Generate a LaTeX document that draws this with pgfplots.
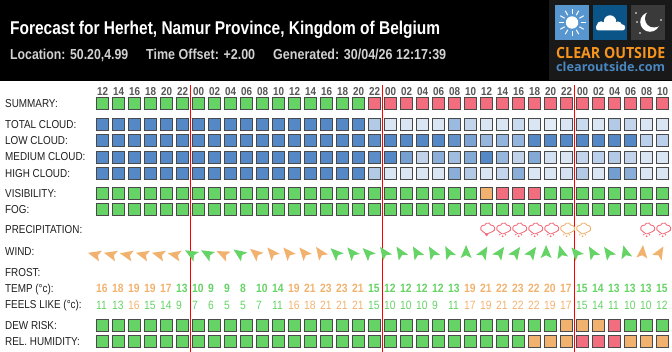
\documentclass[border=0pt]{standalone}
\usepackage{fontspec}
\setmainfont{Liberation Sans}
\newfontfamily\narrow[FakeStretch=0.86]{Liberation Sans}
\newfontfamily\logofont{Open Sans}
\usepackage{pgfplots}
\usepackage{pgfplotstable}
\pgfplotsset{compat=1.18}
\definecolor{cellb}{HTML}{4A4A4A}
\definecolor{okg}{HTML}{66D366}
\definecolor{warn}{HTML}{F2B26F}
\definecolor{bad}{HTML}{F26D7E}
\definecolor{hourc}{HTML}{555555}
\definecolor{lab}{HTML}{1E1E1E}

% summary, vis, fog, dew, hum: 0 good, 50 marginal, 100 poor; cloud in percent
\pgfplotstableread{
i hour summary total low medium high vis fog dew hum
0  12 0   100 100 100 100 0   0 0   0
1  14 0   100 100 100 100 0   0 0   0
2  16 0   100 100 100 100 0   0 0   0
3  18 0   100 100 100 100 0   0 0   0
4  20 0   100 100 100 100 0   0 0   0
5  22 0   100 100 100 100 0   0 0   0
6  00 0   100 100 100 100 0   0 0   0
7  02 0   100 100 100 100 0   0 0   0
8  04 0   100 100 100 100 0   0 0   0
9  06 0   100 100 100 100 0   0 0   0
10 08 0   100 100 100 100 0   0 0   0
11 10 0   100 100 100 100 0   0 0   0
12 12 0   100 100 100 100 0   0 0   0
13 14 0   100 100 100 100 0   0 0   0
14 16 0   100 100 100 100 0   0 0   0
15 18 0   100 100 100 100 0   0 0   0
16 20 0   100 100 100 100 0   0 0   0
17 22 100 40  95  95  40  0   0 0   0
18 00 100 15  100 100 15  0   0 0   0
19 02 100 15  100 78  15  0   0 0   0
20 04 100 15  100 32  15  0   0 0   0
21 06 100 15  100 65  15  0   0 0   0
22 08 100 55  90  52  65  0   0 0   0
23 10 100 30  75  70  40  0   0 0   0
24 12 100 15  58  100 15  50  0 0   0
25 14 100 15  60  58  30  100 0 0   0
26 16 100 25  60  32  65  100 0 0   0
27 18 100 15  100 70  15  100 0 0   50
28 20 100 10  100 20  15  0   0 0   50
29 22 100 15  100 15  20  0   0 50  50
30 00 100 25  100 30  40  0   0 50  100
31 02 100 15  100 35  15  0   0 50  100
32 04 100 40  100 40  80  0   0 100 100
33 06 100 30  100 30  65  0   0 0   50
34 08 100 15  35  15  15  0   0 0   50
35 10 100 15  35  15  15  0   0 0   50
}\fc

\pgfdeclareplotmark{windarrow}{%
  \pgfpathmoveto{\pgfpoint{10.5pt}{0pt}}%
  \pgfpathlineto{\pgfpoint{-2.5pt}{5.5pt}}%
  \pgfpathlineto{\pgfpoint{0.3pt}{0pt}}%
  \pgfpathlineto{\pgfpoint{-2.5pt}{-5.5pt}}%
  \pgfpathclose\pgfusepathqfill}
\newcommand\cloudpath{%
  \pgfpathmoveto{\pgfpoint{-3.8pt}{-3.05pt}}%
  \pgfpatharc{250}{80}{3.3pt}%
  \pgfpatharc{160}{20}{3.4pt}%
  \pgfpatharc{100}{-70}{3.3pt}%
  \pgfpathlineto{\pgfpoint{1pt}{-5.2pt}}%
  \pgfpathlineto{\pgfpoint{-0.8pt}{-5.2pt}}%
  \pgfpathclose\pgfusepathqstroke}
\pgfdeclareplotmark{rainthree}{\cloudpath
  \pgfpathcircle{\pgfpoint{-2.8pt}{-6.2pt}}{0.85pt}%
  \pgfpathcircle{\pgfpoint{2.8pt}{-6.2pt}}{0.85pt}%
  \pgfpathcircle{\pgfpoint{0pt}{-7.8pt}}{0.95pt}\pgfusepathqfill}
\pgfdeclareplotmark{rainone}{\cloudpath
  \pgfpathcircle{\pgfpoint{0pt}{-6.2pt}}{1.6pt}\pgfusepathqfill}

\newcommand\rowlab[2]{\node[anchor=base west,inner sep=0,text=lab,font=\narrow\fontsize{11.5}{13}\selectfont] at (5,#1+4) {#2};}
\pgfplotsset{
  riskcell/.style={scatter,only marks,point meta=\thisrow{#1},mark=square*,mark size=6pt,
    mark options={line width=1pt},colormap name=riskmap,
    scatter/use mapped color={draw=cellb,fill=mapped color}},
  cloudcell/.style={scatter,only marks,point meta=\thisrow{#1},mark=square*,mark size=6pt,
    mark options={line width=1pt},colormap name=cloudmap,
    scatter/use mapped color={draw=cellb,fill=mapped color}},
  numtext/.style={only marks,mark=none,point meta=explicit symbolic,nodes near coords,
    every node near coord/.append style={anchor=west,inner sep=0,xshift=-6.6pt,
    text=#1}},
  windmark/.style={scatter,only marks,mark=windarrow,color=#1,
    scatter/use mapped color={draw=none,fill=#1},
    visualization depends on={\thisrow{wind} \as \rot},
    scatter/@pre marker code/.append style={/tikz/rotate=\rot}},
  rainmark/.style={only marks,mark=#1},
}
\begin{document}
\begin{tikzpicture}[x=1pt,y=-1pt]
\useasboundingbox (0,0) rectangle (672,352);
% header
\fill[black] (0,0) rectangle (672,81);
\fill[black!90!white] (549,0) rectangle (672,80);
\node[anchor=base west,inner sep=0,text=white,font=\bfseries\fontsize{18.5}{21}\selectfont] at (10,35)
  {\resizebox{430pt}{\height}{Forecast for Herhet, Namur Province, Kingdom of Belgium}};
\begin{scope}[every node/.style={anchor=base west,inner sep=0,text=black!18,font=\bfseries\fontsize{14.5}{17}\selectfont}]
\node at (10,59.3) {\resizebox{118pt}{\height}{Location: 50.20,4.99}};
\node at (146,59.3) {\resizebox{109pt}{\height}{Time Offset: +2.00}};
\node at (273,59.3) {\resizebox{173pt}{\height}{Generated: 30/04/26 12:17:39}};
\end{scope}
% logo
\fill[color={rgb,255:red,88;green,150;blue,208}] (555,5) rectangle (589,40);
\fill[color={rgb,255:red,10;green,84;blue,136}] (593,5) rectangle (627,40);
\fill[color={rgb,255:red,58;green,58;blue,58}] (631,5) rectangle (665,40);
\fill[white] (572,22.5) circle (6.2);
\foreach \a in {0,30,...,330}{\draw[white,line width=1pt] (572,22.5)+(\a:8.5) -- +(\a:13.5);}
\fill[white,rounded corners=2.5] (596,24.5) rectangle (625,30.5);
\fill[white] (601,25.5) circle (4.2) (610,21.5) circle (6.2) (618,25.5) circle (4);
\fill[white] (650,22) circle (9.8);
\fill[color={rgb,255:red,58;green,58;blue,58}] (654,18.5) circle (9);
\foreach \p in {(637,22),(661,20),(640,33),(636,13)}{\fill[white] \p circle (0.9);}
\node[anchor=base west,inner sep=0,text={rgb,255:red,247;green,148;blue,29},font=\logofont\bfseries\fontsize{15.4}{17}\selectfont] at (556,58.3)
  {\resizebox{109pt}{\height}{CLEAR OUTSIDE}};
\node[anchor=base west,inner sep=0,text={rgb,255:red,74;green,134;blue,192},font=\logofont\bfseries\fontsize{12.5}{15}\selectfont] at (556,71.6)
  {\resizebox{109pt}{\height}{clearoutside.com}};
% row labels
\rowlab{103.5}{SUMMARY:}
\rowlab{125}{TOTAL CLOUD:}
\rowlab{141}{LOW CLOUD:}
\rowlab{157}{MEDIUM CLOUD:}
\rowlab{173.5}{HIGH CLOUD:}
\rowlab{193.5}{VISIBILITY:}
\rowlab{209.5}{FOG:}
\rowlab{230}{PRECIPITATION:}
\rowlab{251.5}{WIND:}
\rowlab{273}{FROST:}
\rowlab{288.5}{TEMP (°c):}
\rowlab{304.5}{FEELS LIKE (°c):}
\rowlab{325.5}{DEW RISK:}
\rowlab{341.5}{REL. HUMIDITY:}

\begin{axis}[
  at={(0,0)},anchor=north west,
  scale only axis,width=672pt,height=352pt,
  hide axis,clip=false,
  xmin=-6.4125,xmax=35.5875,ymin=0,ymax=352,y dir=reverse,
  point meta min=0,point meta max=100,
  colormap={cloudmap}{rgb255(0)=(243,247,253) rgb255(100)=(84,136,198)},
  colormap={riskmap}{rgb255(0)=(102,211,102) rgb255(50)=(242,178,111) rgb255(100)=(242,109,126)},
]
% hours
\addplot[only marks,mark=none,point meta=explicit symbolic,nodes near coords,
  every node near coord/.append style={anchor=center,inner sep=0,text=hourc,
  font=\narrow\bfseries\fontsize{11.5}{13}\selectfont}]
  table[x=i,y expr=91.5,meta=hour]{\fc};
% coloured cells
\addplot[riskcell=summary] table[x=i,y expr=103.5]{\fc};
\addplot[cloudcell=total] table[x=i,y expr=124.5]{\fc};
\addplot[cloudcell=low] table[x=i,y expr=140.8]{\fc};
\addplot[cloudcell=medium] table[x=i,y expr=157]{\fc};
\addplot[cloudcell=high] table[x=i,y expr=173]{\fc};
\addplot[riskcell=vis] table[x=i,y expr=193.5]{\fc};
\addplot[riskcell=fog] table[x=i,y expr=209.6]{\fc};
\addplot[riskcell=dew] table[x=i,y expr=325.3]{\fc};
\addplot[riskcell=hum] table[x=i,y expr=341.3]{\fc};
% precipitation
\addplot[rainmark=rainone,mark options={color=bad,line width=0.9pt}] coordinates {(24,228.5)};
\addplot[rainmark=rainthree,mark options={color=bad,line width=0.9pt}] coordinates {(25,228.5)(26,228.5)(27,228.5)(28,228.5)(34,228.5)(35,228.5)};
\addplot[rainmark=rainthree,mark options={color=warn,line width=0.9pt}] coordinates {(29,228.5)(30,228.5)};
% wind
\addplot[windmark=warn] table[x expr=\thisrow{i}-0.28,y expr=255.5] {
i wind
0 165
1 165
2 168
3 165
4 165
5 168
8 155
10 140
11 130
12 130
13 130
14 125
34 85
35 60
};
\addplot[windmark=okg] table[x expr=\thisrow{i}-0.28,y expr=255.5] {
i wind
6 150
7 150
9 145
15 136
16 130
17 135
18 125
19 122
20 120
21 120
22 118
23 90
24 60
25 55
26 55
27 55
28 90
29 105
30 130
31 120
32 125
33 105
};
% temperature and feels like: numbers below 16 in green, others in orange
\addplot[numtext=warn,every node near coord/.append style={font=\narrow\bfseries\fontsize{12}{14}\selectfont}] table[x=i,y expr=288.5,meta=temp] {
i temp
0 16
1 18
2 19
3 19
4 17
12 19
13 21
14 23
15 23
16 21
23 19
24 21
25 22
26 23
27 22
28 20
29 17
};
\addplot[numtext=okg,every node near coord/.append style={font=\narrow\bfseries\fontsize{12}{14}\selectfont}] table[x=i,y expr=288.5,meta=temp] {
i temp
5 13
6 10
7 9
8 9
9 8
10 10
11 14
17 15
18 12
19 12
20 12
21 12
22 13
30 15
31 14
32 13
33 13
34 13
35 15
};
\addplot[numtext=warn,every node near coord/.append style={font=\narrow\fontsize{12}{14}\selectfont}] table[x=i,y expr=305.5,meta=feels] {
i feels
2 16
12 16
13 18
14 21
15 21
16 21
23 17
24 19
25 21
26 22
27 22
28 19
29 17
};
\addplot[numtext=okg,every node near coord/.append style={font=\narrow\fontsize{12}{14}\selectfont}] table[x=i,y expr=305.5,meta=feels] {
i feels
0 11
1 13
3 15
4 14
5 9
6 7
7 6
8 5
9 5
10 7
11 11
17 15
18 10
19 10
20 10
21 9
22 11
30 15
31 14
32 11
33 10
34 10
35 12
};
% day separators
\addplot[red,line width=1pt] coordinates {(5.48,85)(5.48,352)};
\addplot[red,line width=1pt] coordinates {(17.48,85)(17.48,352)};
\addplot[red,line width=1pt] coordinates {(29.48,85)(29.48,352)};
\end{axis}
\end{tikzpicture}
\end{document}
